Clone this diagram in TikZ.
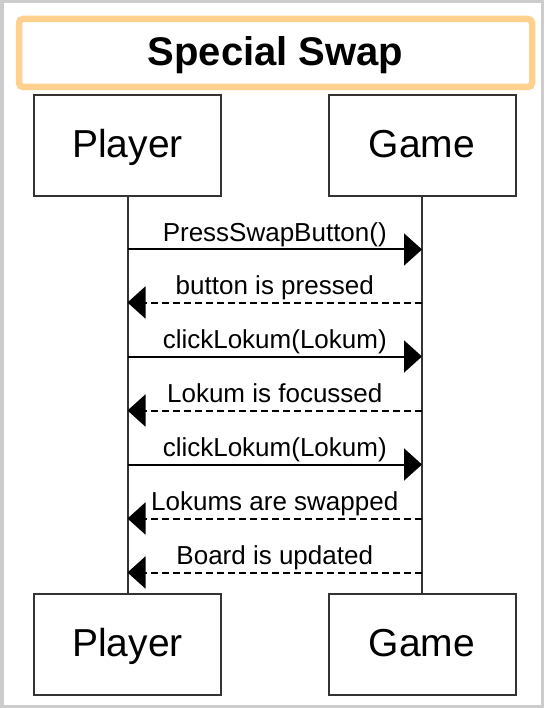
\documentclass[tikz,border=0pt]{standalone}
\usepackage{fontspec}
\setmainfont{Liberation Sans}
\usetikzlibrary{arrows.meta}
\definecolor{titleorange}{RGB}{255,209,143}
\definecolor{framegray}{RGB}{204,204,204}
\definecolor{boxgray}{RGB}{51,51,51}

\begin{document}
\begin{tikzpicture}[x=1pt, y=-1pt,
  every node/.style={inner sep=0pt, outer sep=0pt},
  titlebox/.style={draw=titleorange, line width=6.5pt, rounded corners=4pt,
                   fill=white, minimum width=513pt, minimum height=68pt,
                   font=\fontsize{40}{40}\selectfont\bfseries,
                   text height=29pt, text depth=3pt},
  actor/.style={draw=boxgray, line width=2pt, fill=white,
                minimum width=187pt, minimum height=101pt,
                font=\fontsize{39}{39}\selectfont,
                text height=28pt, text depth=4pt},
  lifeline/.style={draw=boxgray, line width=2pt},
  call/.style={line width=2pt, -{Triangle[length=18pt, width=32pt]}},
  reply/.style={call, dash pattern=on 7pt off 4pt},
  lbl/.style={font=\fontsize{26}{26}\selectfont, anchor=base, yshift=8pt}
]

%--- Frame ---
\useasboundingbox (0,0) rectangle (544,708);
\draw[framegray, line width=3.5pt, fill=white] (1.75,1.75) rectangle (542.25,706.25);

%--- Title and actors ---
\node[titlebox] (title) at (275.5,53)  {Special Swap};
\node[actor]    (pTop)  at (127.5,145.5) {Player};
\node[actor]    (gTop)  at (422,145.5)   {Game};
\node[actor]    (pBot)  at (127.5,644)   {Player};
\node[actor]    (gBot)  at (422,644)     {Game};

%--- Lifelines ---
\draw[lifeline] (pTop) -- (pBot);
\draw[lifeline] (gTop) -- (gBot);

\foreach \y [count=\i] in {249.5,302.5,356.5,410.5,464.5,518.5,572.5} {
  \coordinate (p\i) at (127.5,\y);
  \coordinate (g\i) at (422,\y);
}

%--- Messages ---
\draw[call]  (p1) -- node[lbl] {PressSwapButton()} (g1);
\draw[reply] (g2) -- node[lbl] {button is pressed} (p2);
\draw[call]  (p3) -- node[lbl] {clickLokum(Lokum)} (g3);
\draw[reply] (g4) -- node[lbl] {Lokum is focussed} (p4);
\draw[call]  (p5) -- node[lbl] {clickLokum(Lokum)} (g5);
\draw[reply] (g6) -- node[lbl] {Lokums are swapped} (p6);
\draw[reply] (g7) -- node[lbl] {Board is updated} (p7);

\end{tikzpicture}
\end{document}
